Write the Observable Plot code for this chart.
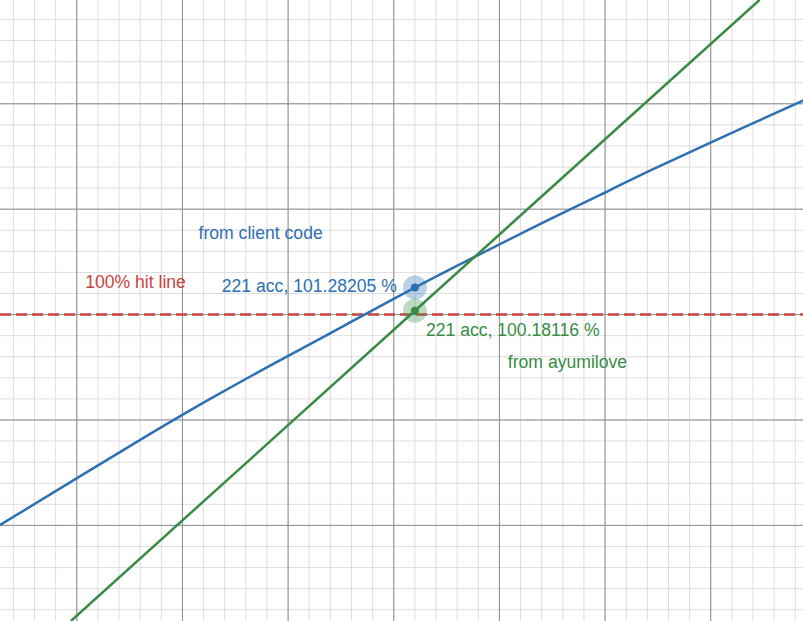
<!DOCTYPE html>
<html>
<head>
<meta charset="utf-8">
<script src="https://cdn.jsdelivr.net/npm/d3@7"></script>
<script src="https://cdn.jsdelivr.net/npm/@observablehq/plot@0.6"></script>
<style>
  html, body { margin: 0; padding: 0; background: #fff; }
  #chart svg { display: block; }
</style>
</head>
<body>
<div id="chart"></div>
<script>
// Blue curve ("from client code")
const blueX = [201.39, 208.49, 211.33, 214.17, 217.01, 221, 227.42, 230.26, 232.15, 234.99, 239.39];
const blueY = [90.03, 94.35, 96.01, 97.59, 99.12, 101.28205, 104.54, 105.92, 106.84, 108.16, 110.16];
// Green line ("from ayumilove")
const greenX = [204.75, 221, 237.28];
const greenY = [85.49, 100.18116, 114.90];
// Highlighted points
const pointAcc = [221, 221];
const pointPct = [101.28205, 100.18116];
const pointLabels = ["221 acc, 101.28205 %", "221 acc, 100.18116 %"];
// 100% hit line
const hitLine = [100];
// Free labels
const noteText = ["from client code", "100% hit line", "from ayumilove"];
const noteX = [213.70, 207.78, 228.22];
const noteY = [103.85, 101.52, 97.73];
// Grid
const minorX = d3.range(202, 240, 1);
const majorX = d3.range(205, 240, 5);
const minorY = d3.range(86, 115, 1);
const majorY = d3.range(90, 115, 5);

const BLUE = "#2d70b3", GREEN = "#388c46", RED = "#c74440";

const blue = blueX.map((x, i) => ({x, y: blueY[i]}));
const green = greenX.map((x, i) => ({x, y: greenY[i]}));
const pts = pointAcc.map((x, i) => ({x, y: pointPct[i], label: pointLabels[i], c: i === 0 ? BLUE : GREEN}));
const notes = noteText.map((t, i) => ({t, x: noteX[i], y: noteY[i], c: [BLUE, RED, GREEN][i]}));

const chart = Plot.plot({
  width: 803,
  height: 621,
  margin: 0,
  x: {domain: [201.39, 239.39], axis: null},
  y: {domain: [85.44, 114.90], axis: null},
  style: {fontFamily: "Arial, 'Liberation Sans', sans-serif", background: "#fff"},
  marks: [
    Plot.ruleX(minorX, {stroke: "#dedede", strokeWidth: 1}),
    Plot.ruleY(minorY, {stroke: "#dedede", strokeWidth: 1}),
    Plot.ruleX(majorX, {stroke: "#8c8c8c", strokeWidth: 1}),
    Plot.ruleY(majorY, {stroke: "#8c8c8c", strokeWidth: 1}),
    Plot.ruleY(hitLine, {stroke: RED, strokeWidth: 2.5, strokeDasharray: "11,5"}),
    Plot.line(blue, {x: "x", y: "y", stroke: BLUE, strokeWidth: 2.5, curve: "catmull-rom", clip: true}),
    Plot.line(green, {x: "x", y: "y", stroke: GREEN, strokeWidth: 2.5, clip: true}),
    Plot.dot(pts, {x: "x", y: "y", r: 12, fill: "c", fillOpacity: 0.32, stroke: null}),
    Plot.dot(pts, {x: "x", y: "y", r: 4, fill: "c", stroke: null}),
    Plot.text([pts[0]], {x: "x", y: "y", text: "label", fill: BLUE, fontSize: 17.6, textAnchor: "end", dx: -18, dy: -1}),
    Plot.text([pts[1]], {x: "x", y: "y", text: "label", fill: GREEN, fontSize: 17.6, textAnchor: "start", dx: 11, dy: 20}),
    Plot.text(notes, {x: "x", y: "y", text: "t", fill: "c", fontSize: 17.6, textAnchor: "middle"})
  ],
  color: {type: "identity"}
});
document.getElementById("chart").appendChild(chart);
</script>
</body>
</html>
